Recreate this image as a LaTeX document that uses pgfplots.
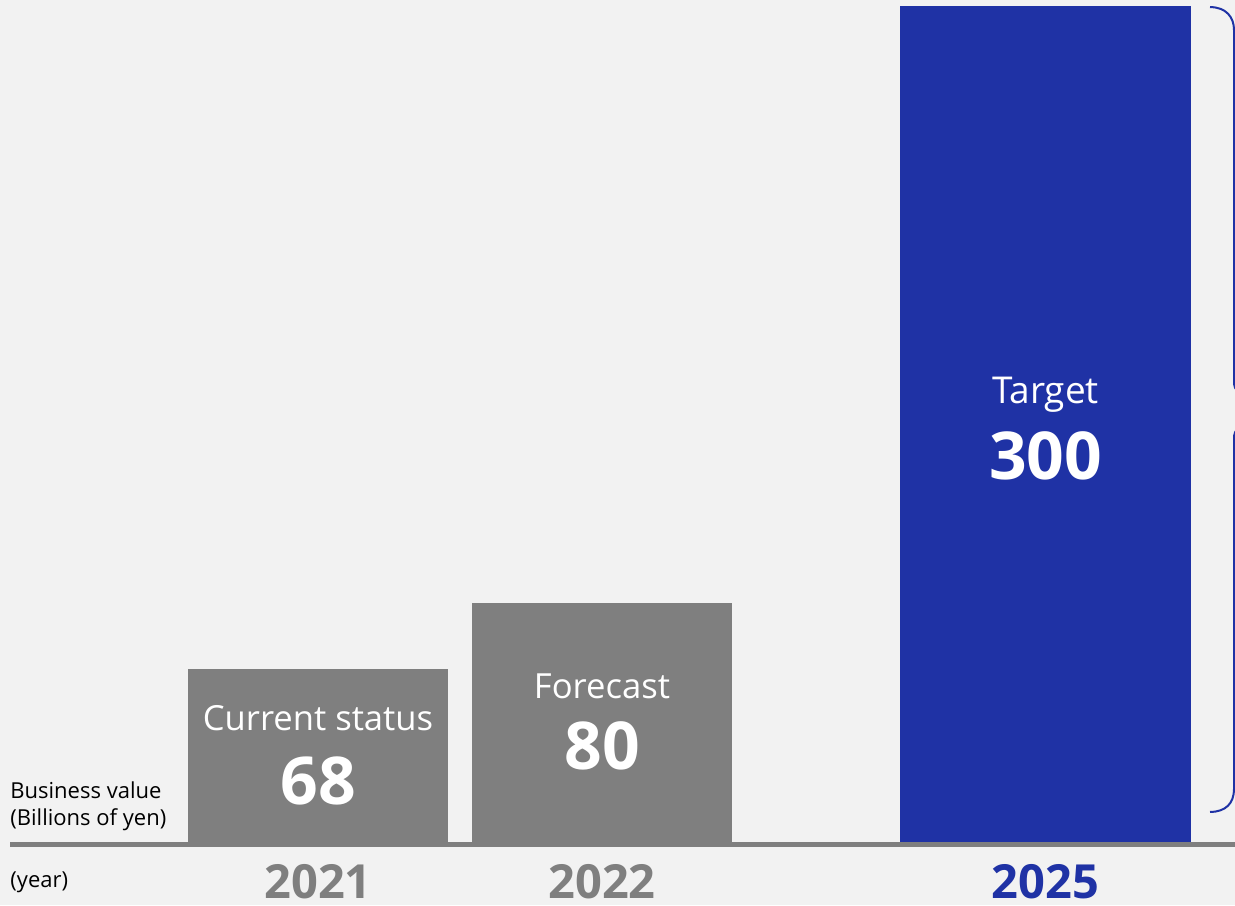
\documentclass[border=0pt]{standalone}
\usepackage{fontspec}
\setmainfont{Open Sans}
\usepackage{pgfplots}
\pgfplotsset{compat=1.18}
\definecolor{bg}{HTML}{F2F2F2}
\definecolor{bargray}{HTML}{7F7F7F}
\definecolor{tblue}{HTML}{1F32A5}
\begin{document}
\begin{tikzpicture}
\begin{axis}[
  scale only axis, width=617.5pt, height=452.5pt,
  xmin=0, xmax=1235, ymin=-22.6, ymax=302.15,
  axis lines=none, xtick=\empty, ytick=\empty,
  clip=true,
]
\fill[bg] (rel axis cs:0,0) rectangle (rel axis cs:1,1);
% baseline
\addplot[bargray, line width=2.5pt, no marks] coordinates {(10,-0.9) (1235,-0.9)};
% bars
\addplot[ybar, bar width=260, bar shift=0pt, fill=bargray, draw=none] coordinates {(318,62.1)};
\addplot[ybar, bar width=260, bar shift=0pt, fill=bargray, draw=none] coordinates {(602,85.8)};
\addplot[ybar, bar width=291, bar shift=0pt, fill=tblue, draw=none] coordinates {(1045.5,300)};
% brace
\draw[tblue, line width=1pt] (axis cs:1210,299.6) .. controls (axis cs:1226,299.6) and (axis cs:1234,296) .. (axis cs:1234,291.4)
  -- (axis cs:1234,166) .. controls (axis cs:1234,163) .. (axis cs:1242,160);
\draw[tblue, line width=1pt] (axis cs:1242,150) .. controls (axis cs:1234,147) .. (axis cs:1234,144)
  -- (axis cs:1234,19) .. controls (axis cs:1234,14) and (axis cs:1226,10.8) .. (axis cs:1210,10.8);
% labels in bars
\node[white, font=\fontsize{17.3}{20}\selectfont] at (axis cs:318,44.5) {Current status};
\node[white, font=\fontsize{33}{36}\selectfont\bfseries] at (axis cs:318,21.9) {68};
\node[white, font=\fontsize{17.3}{20}\selectfont] at (axis cs:602,56.0) {Forecast};
\node[white, font=\fontsize{33}{36}\selectfont\bfseries] at (axis cs:602,34.4) {80};
\node[white, font=\fontsize{18.5}{22}\selectfont] at (axis cs:1045.5,160.5) {Target};
\node[white, font=\fontsize{33}{36}\selectfont\bfseries] at (axis cs:1045.5,138.5) {300};
% left labels
\node[anchor=west, inner sep=0pt, font=\fontsize{11}{13}\selectfont] at (axis cs:10,18.7) {Business value};
\node[anchor=west, inner sep=0pt, font=\fontsize{11}{13}\selectfont] at (axis cs:10,7.9) {(Billions of yen)};
\node[anchor=west, inner sep=0pt, font=\fontsize{11}{13}\selectfont] at (axis cs:10,-14.4) {(year)};
% years
\node[bargray, font=\fontsize{23.5}{26}\selectfont\bfseries] at (axis cs:318,-14.4) {2021};
\node[bargray, font=\fontsize{23.5}{26}\selectfont\bfseries] at (axis cs:602,-14.4) {2022};
\node[tblue, font=\fontsize{23.5}{26}\selectfont\bfseries] at (axis cs:1045.5,-14.4) {2025};
\end{axis}
\pgfresetboundingbox
\path (current axis.south west) rectangle (current axis.north east);
\end{tikzpicture}
\end{document}
